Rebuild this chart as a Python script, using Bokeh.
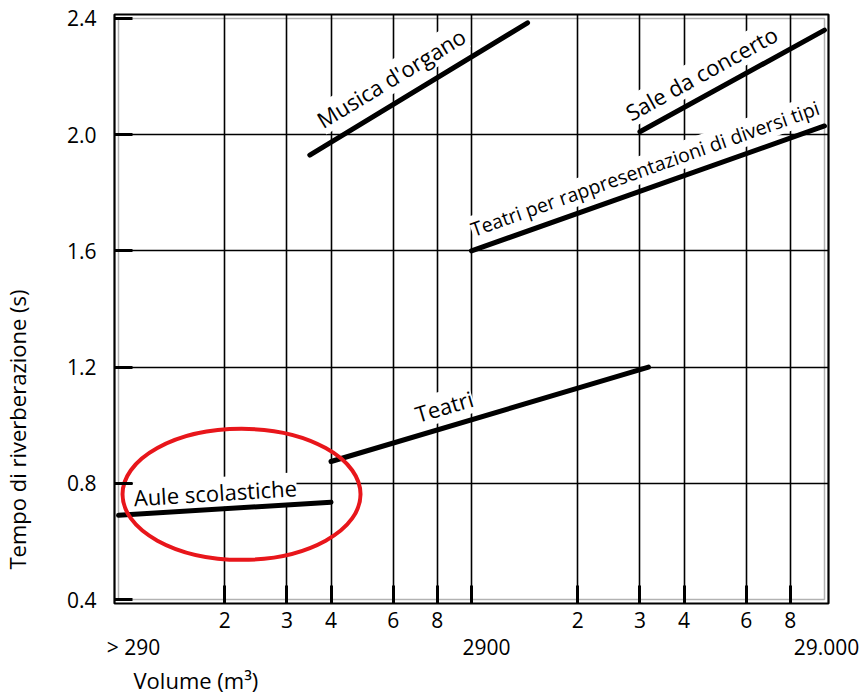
import math
from bokeh.plotting import figure
from bokeh.models import Range1d, FixedTicker, Label, BoxAnnotation, LogAxis, Title
from bokeh.embed import file_html
from bokeh.resources import INLINE

# ---------------- data ----------------
minor_ticks = [580, 870, 1160, 1740, 2320, 5800, 8700, 11600, 17400, 23200]
minor_labels = ["2", "3", "4", "6", "8", "2", "3", "4", "6", "8"]
major_ticks = [290, 2900, 29000]
major_labels = ["> 290", "2900", "29.000"]
time_ticks = [0.4, 0.8, 1.2, 1.6, 2.0, 2.4]
time_labels = ["0.4", "0.8", "1.2", "1.6", "2.0", "2.4"]
grid_time = [0.8, 1.2, 1.6, 2.0]

series_names = ["Aule scolastiche", "Teatri",
                "Teatri per rappresentazioni di diversi tipi",
                "Sale da concerto", "Musica d'organo"]
aule_vol = [290, 1160]
aule_time = [0.69, 0.735]
teatri_vol = [1160, 9200]
teatri_time = [0.875, 1.20]
rapp_vol = [2900, 29000]
rapp_time = [1.60, 2.03]
sale_vol = [8700, 29000]
sale_time = [2.01, 2.36]
organo_vol = [1010, 4180]
organo_time = [1.93, 2.385]

highlight_vol = [647]
highlight_time = [0.762]

# ---------------- geometry ----------------
W, H = 864, 695
B_LEFT, B_RIGHT, B_TOP, B_BOTTOM = 114, 36, 14, 91
frame_w = W - B_LEFT - B_RIGHT
frame_h = H - B_TOP - B_BOTTOM
INSET = 4
px_dec = (frame_w - 2 * INSET) / 2.0
px_unit = (frame_h - 2 * INSET) / 2.0

FONT = "Open Sans"
FS = "21px"
FS_TITLE = "22px"

x_range = Range1d(290 / 10 ** (INSET / px_dec), 29000 * 10 ** (INSET / px_dec))
y_range = Range1d(0.4 - INSET / px_unit, 2.4 + INSET / px_unit)

p = figure(width=W, height=H, x_axis_type="log", x_range=x_range, y_range=y_range,
           output_backend="svg", toolbar_location=None,
           min_border_left=B_LEFT, min_border_right=B_RIGHT,
           min_border_top=B_TOP, min_border_bottom=B_BOTTOM)
p.background_fill_color = "white"
p.border_fill_color = "white"
p.outline_line_color = "black"
p.outline_line_width = 2.2

# grid
p.xgrid.ticker = FixedTicker(ticks=minor_ticks + [2900])
p.ygrid.ticker = FixedTicker(ticks=grid_time)
for g in (p.xgrid, p.ygrid):
    g.grid_line_color = "black"
    g.grid_line_width = 1.6


def style_axis(ax):
    ax.axis_line_color = None
    ax.major_tick_line_color = None
    ax.minor_tick_line_color = None
    ax.major_tick_out = 0
    ax.major_tick_in = 0
    ax.minor_tick_out = 0
    ax.major_label_text_font = FONT
    ax.major_label_text_font_size = FS
    ax.major_label_text_color = "black"


# axes (short heavy tick stubs inside the frame, as in the original)
xa = p.xaxis[0]
xa.ticker = FixedTicker(ticks=minor_ticks + [2900])
overrides = {float(v): s for v, s in zip(minor_ticks, minor_labels)}
overrides[2900.0] = ""
xa.major_label_overrides = overrides
style_axis(xa)
xa.major_tick_line_color = "black"
xa.major_tick_line_width = 3
xa.major_tick_in = 18
xa.major_label_standoff = 8

ya = p.yaxis[0]
ya.ticker = FixedTicker(ticks=time_ticks)
ya.major_label_overrides = {float(v): s for v, s in zip(time_ticks, time_labels)}
style_axis(ya)
ya.major_tick_line_color = "black"
ya.major_tick_line_width = 3
ya.major_tick_in = 18
ya.major_label_standoff = 18

# second row of volume labels (decade values), nudged right as in the original
major_nudge_px = [15, 15, 2]
major_pos = [v * 10 ** (n / px_dec) for v, n in zip(major_ticks, major_nudge_px)]
xa2 = LogAxis(ticker=FixedTicker(ticks=major_pos),
              major_label_overrides={float(v): s for v, s in zip(major_pos, major_labels)})
style_axis(xa2)
xa2.major_label_standoff = 2
p.add_layout(xa2, "below")

# axis titles
p.add_layout(Title(text="Volume (m\u00b3)", align="left", offset=19, standoff=0,
                   vertical_align="middle", text_font=FONT, text_font_size=FS_TITLE,
                   text_font_style="normal", text_color="black"), "below")
p.add_layout(Title(text="Tempo di riverberazione (s)\n\u00a0", align="left", offset=34,
                   standoff=0, vertical_align="top", text_font=FONT, text_font_size=FS_TITLE,
                   text_font_style="normal", text_color="black"), "left")

# inner frame line
p.add_layout(BoxAnnotation(left=290, right=29000, bottom=0.4, top=2.4,
                           fill_color=None, line_color="black", line_width=1.5))

# curves
series = [(aule_vol, aule_time), (teatri_vol, teatri_time), (rapp_vol, rapp_time),
          (sale_vol, sale_time), (organo_vol, organo_time)]
label_frac = [0.46, 0.375, 0.51, 0.39, 0.43]
label_dist = [17, 21, 20, 22, 24]
label_size = ["22px", "22px", "19.5px", "22px", "22px"]

for (vol, tm), name, fr, d, fs in zip(series, series_names, label_frac, label_dist, label_size):
    p.line(x=vol, y=tm, line_width=5, line_color="black", line_cap="round")
    dx = math.log10(vol[1] / vol[0]) * px_dec
    dy = (tm[1] - tm[0]) * px_unit
    ang = math.atan2(dy, dx)
    # point along the curve, pushed perpendicular (above) by d screen pixels
    xm = vol[0] * 10 ** (fr * math.log10(vol[1] / vol[0]) - math.sin(ang) * d / px_dec)
    ym = tm[0] + fr * (tm[1] - tm[0]) + math.cos(ang) * d / px_unit
    p.add_layout(Label(x=xm, y=ym, angle=ang, level="underlay",
                       text=name, text_align="center", text_baseline="alphabetic",
                       text_font=FONT, text_font_size=fs, text_color="black",
                       background_fill_color="white"))

# red highlight ellipse
p.ellipse(x=highlight_vol, y=highlight_time, width=238, height=131,
          width_units="screen", height_units="screen",
          fill_color=None, line_color="#e8161b", line_width=4)

open("out.html", "w").write(file_html(p, INLINE))
